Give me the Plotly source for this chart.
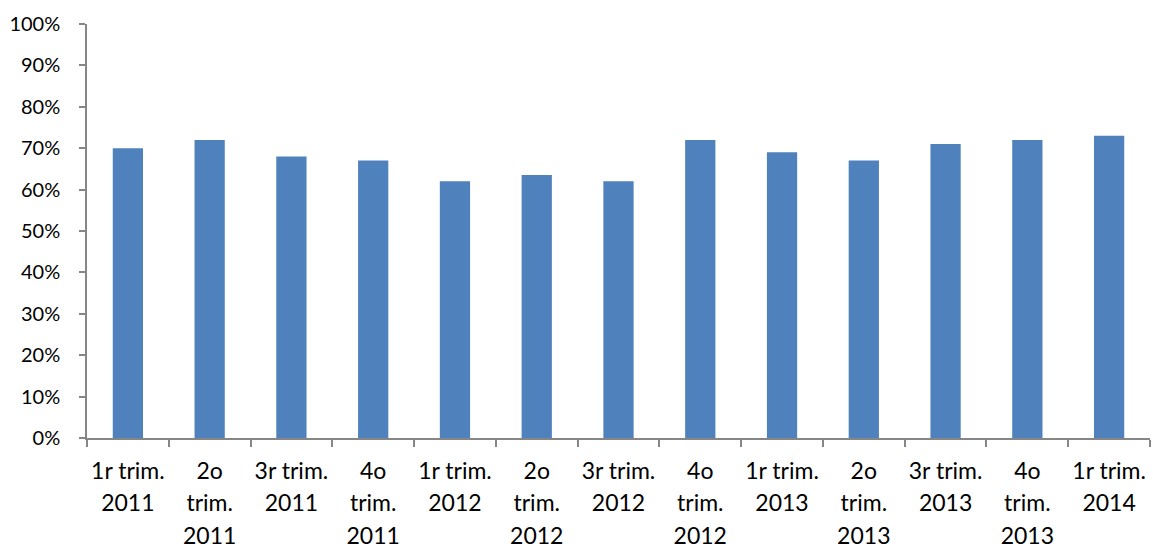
import plotly.graph_objects as go

categories = ["1r trim.<br>2011", "2o<br>trim.<br>2011", "3r trim.<br>2011", "4o<br>trim.<br>2011",
              "1r trim.<br>2012", "2o<br>trim.<br>2012", "3r trim.<br>2012", "4o<br>trim.<br>2012",
              "1r trim.<br>2013", "2o<br>trim.<br>2013", "3r trim.<br>2013", "4o<br>trim.<br>2013",
              "1r trim.<br>2014"]
values = [0.70, 0.72, 0.68, 0.67, 0.62, 0.635, 0.62, 0.72, 0.69, 0.67, 0.71, 0.72, 0.73]

ticktext = ["<br>".join("<span style='font-size:23px'>%s</span>" % p for p in c.split("<br>"))
            for c in categories]

fig = go.Figure(go.Bar(x=categories, y=values, marker=dict(color="#4F81BD", line=dict(width=0))))

fig.update_layout(
    width=1153, height=549,
    margin=dict(l=87, r=3, t=24, b=111),
    plot_bgcolor="white", paper_bgcolor="white",
    bargap=0.63, showlegend=False,
    font=dict(family="Lato", size=20, color="#000000"),
)
fig.update_yaxes(range=[0, 1], dtick=0.1, tickformat=".0%", showgrid=False, zeroline=False,
                 showline=True, linecolor="#868686", linewidth=1.5, ticks="outside", ticklen=6,
                 tickcolor="#868686", tickwidth=1.5, ticklabelstandoff=15, automargin=False,
                 tickfont=dict(size=20))
fig.update_xaxes(showgrid=False, showline=True, linecolor="#868686", linewidth=1.5,
                 ticks="outside", ticklen=7, tickcolor="#868686", tickwidth=1.5,
                 tickson="boundaries", tickangle=0, ticklabelstandoff=9, automargin=False,
                 tickmode="array", tickvals=categories, ticktext=ticktext,
                 tickfont=dict(size=25))

fig.write_html("out.html", post_script="document.body.style.margin='0';",
               config={"displayModeBar": False})
